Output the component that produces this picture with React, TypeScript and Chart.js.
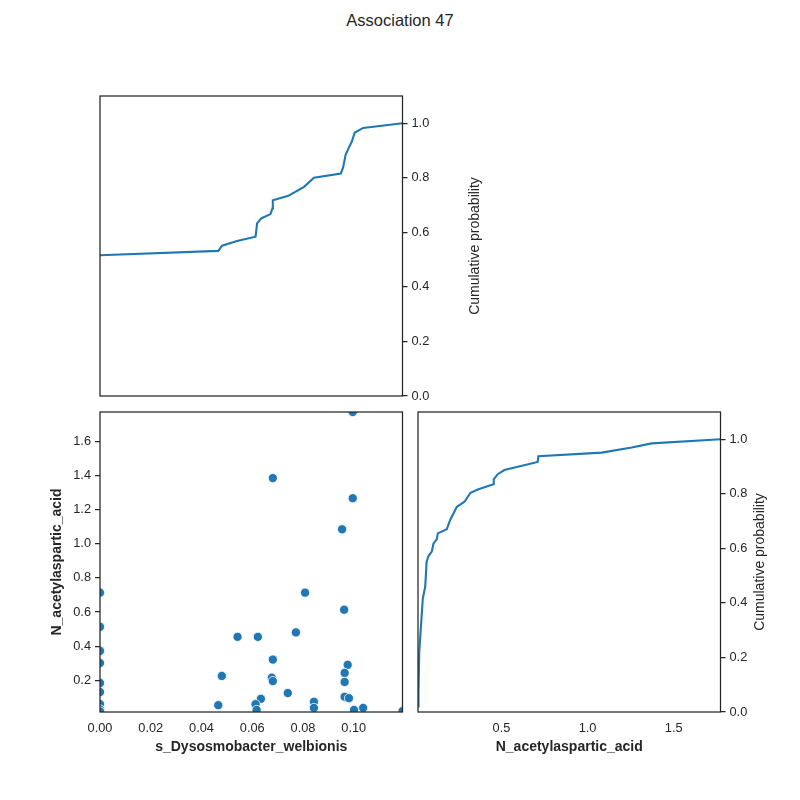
import { useEffect, useRef } from "react"
import { Chart, registerables } from "chart.js"

Chart.register(...registerables)

const TITLE = "Association 47"
const X_LABEL = "s_Dysosmobacter_welbionis"
const Y_LABEL = "N_acetylaspartic_acid"
const CDF_LABEL = "Cumulative probability"

// scatter: s_Dysosmobacter_welbionis vs N_acetylaspartic_acid
const scatterX = [
  0.0996, 0.0681, 0.0996, 0.0954, 0, 0.0808, 0.0962, 0, 0.0772, 0.0542, 0.0622, 0,
  0, 0.0681, 0.0976, 0.0964, 0.048, 0.0677, 0.0681, 0.0964, 0, 0, 0.074, 0.0964,
  0.0981, 0.0634, 0.0843, 0.0466, 0.0613, 0, 0.0843, 0.1037, 0.0617, 0.1001, 0, 0.1192, 0,
]
const scatterY = [
  1.772, 1.385, 1.267, 1.085, 0.714, 0.714, 0.614, 0.514, 0.481, 0.455, 0.455, 0.373,
  0.302, 0.322, 0.291, 0.244, 0.226, 0.216, 0.196, 0.191, 0.185, 0.132, 0.126, 0.104,
  0.096, 0.092, 0.075, 0.055, 0.061, 0.061, 0.039, 0.039, 0.027, 0.027, 0.03, 0.02, 0.018,
]

// cumulative distribution of s_Dysosmobacter_welbionis
const cdfX1 = [
  0, 0.0466, 0.0481, 0.054, 0.0613, 0.0619, 0.0635, 0.0672, 0.0679, 0.0681, 0.0742,
  0.0804, 0.0843, 0.0949, 0.0958, 0.0968, 0.0984, 0.0992, 0.1004, 0.1037, 0.1192,
]
const cdfY1 = [
  0.516, 0.532, 0.551, 0.568, 0.584, 0.633, 0.651, 0.667, 0.687, 0.718, 0.734,
  0.767, 0.8, 0.816, 0.838, 0.885, 0.917, 0.932, 0.966, 0.983, 1.0,
]

// cumulative distribution of N_acetylaspartic_acid
const cdfX2 = [
  0.016, 0.018, 0.022, 0.032, 0.043, 0.057, 0.065, 0.076, 0.095, 0.105, 0.124, 0.13,
  0.182, 0.202, 0.24, 0.285, 0.32, 0.366, 0.453, 0.455, 0.478, 0.517, 0.71, 0.714,
  1.082, 1.256, 1.372, 1.772,
]
const cdfY2 = [
  0.02, 0.07, 0.216, 0.313, 0.417, 0.46, 0.551, 0.572, 0.588, 0.618, 0.633, 0.655,
  0.67, 0.704, 0.752, 0.771, 0.804, 0.817, 0.835, 0.853, 0.872, 0.887, 0.917, 0.938,
  0.951, 0.97, 0.985, 1.0,
]

const xMin = 0
const xMax = 0.1192
const yMin = 0.015
const yMax = 1.772
const xTicks = [0, 0.02, 0.04, 0.06, 0.08, 0.1]
const yTicks = [0.2, 0.4, 0.6, 0.8, 1.0, 1.2, 1.4, 1.6]
const probTicks = [0, 0.2, 0.4, 0.6, 0.8, 1.0]
const yCdfTicks = [0.5, 1.0, 1.5]

const INK = "#262626"
const BLUE = "#1f77b4"
const FONT = "'Liberation Sans', Arial, Helvetica, sans-serif"

const framePlugin = {
  id: "frame",
  afterDatasetsDraw(chart: any) {
    const { ctx, chartArea: a } = chart
    ctx.save()
    ctx.strokeStyle = INK
    ctx.lineWidth = 1.25
    ctx.strokeRect(a.left, a.top, a.right - a.left, a.bottom - a.top)
    ctx.restore()
  },
}

// right-hand axis title, reading bottom to top like matplotlib
const sideTitlePlugin = {
  id: "sideTitle",
  afterDraw(chart: any, _args: any, opts: any) {
    if (!opts || !opts.text) return
    const { ctx, chartArea: a } = chart
    ctx.save()
    ctx.translate(opts.x, (a.top + a.bottom) / 2)
    ctx.rotate(-Math.PI / 2)
    ctx.textAlign = "center"
    ctx.textBaseline = "middle"
    ctx.font = `14px ${FONT}`
    ctx.fillStyle = INK
    ctx.fillText(opts.text, 0, 0)
    ctx.restore()
  },
}

const tickFont = { family: FONT, size: 12.8 }
const labelFont = { family: FONT, size: 14, weight: "bold" as const }

const fixed = (values: number[]) => (scale: any) => {
  scale.ticks = values.map((value) => ({ value }))
}

const yAxis = (position: "left" | "right", min: number, max: number, ticks: number[], digits: number) => ({
  type: "linear" as const,
  position,
  min,
  max,
  afterBuildTicks: fixed(ticks),
  afterFit: (s: any) => {
    s.width = position === "left" ? 100 : 60
  },
  border: { display: false },
  grid: { drawOnChartArea: false, tickLength: 5, tickColor: INK, lineWidth: 1.25 },
  ticks: { color: INK, font: tickFont, padding: 4, callback: (v: any) => Number(v).toFixed(digits) },
})

const xAxis = (min: number, max: number, ticks: number[], digits: number, text: string) => ({
  type: "linear" as const,
  position: "bottom" as const,
  min,
  max,
  afterBuildTicks: fixed(ticks),
  afterFit: (s: any) => {
    s.height = 60
  },
  border: { display: false },
  grid: { display: false, drawTicks: false },
  ticks: { color: INK, font: tickFont, padding: 9, maxRotation: 0, callback: (v: any) => Number(v).toFixed(digits) },
  title: { display: true, text, color: INK, font: labelFont, padding: { top: 0, bottom: 16 } },
})

const lineSet = (xs: number[], ys: number[]) => ({
  data: xs.map((x, i) => ({ x, y: ys[i] })),
  borderColor: BLUE,
  borderWidth: 2.1,
  pointRadius: 0,
  tension: 0,
  clip: 0,
})

const basePlugins = { legend: { display: false }, tooltip: { enabled: false } }

function ChartCanvas({ config }: { config: any }) {
  const ref = useRef<HTMLCanvasElement>(null)
  useEffect(() => {
    if (!ref.current) return
    const chart = new Chart(ref.current, config)
    return () => chart.destroy()
  }, [config])
  return <canvas ref={ref} width={800} height={800} style={{ position: "absolute", left: 0, top: 0 }} />
}

const topCdf = {
  type: "line",
  data: { datasets: [lineSet(cdfX1, cdfY1)] },
  options: {
    animation: false,
    responsive: false,
    layout: { padding: { left: 100, top: 96, right: 337.5, bottom: 404 } },
    plugins: { ...basePlugins, sideTitle: { text: CDF_LABEL, x: 475 } },
    scales: {
      x: { type: "linear", display: false, min: xMin, max: xMax },
      y: yAxis("right", 0, 1.1, probTicks, 1),
    },
  },
  plugins: [framePlugin, sideTitlePlugin],
}

const scatter = {
  type: "scatter",
  data: {
    datasets: [
      {
        data: scatterX.map((x, i) => ({ x, y: scatterY[i] })),
        backgroundColor: BLUE,
        borderColor: "#ffffff",
        borderWidth: 0.8,
        pointRadius: 4.6,
        clip: 0,
      },
    ],
  },
  options: {
    animation: false,
    responsive: false,
    layout: { padding: { left: 0, top: 412, right: 397.5, bottom: 28 } },
    plugins: basePlugins,
    scales: {
      x: xAxis(xMin, xMax, xTicks, 2, X_LABEL),
      y: {
        ...yAxis("left", yMin, yMax, yTicks, 1),
        title: { display: true, text: Y_LABEL, color: INK, font: labelFont, padding: { top: 49, bottom: 0 } },
      },
    },
  },
  plugins: [framePlugin],
}

const rightCdf = {
  type: "line",
  data: { datasets: [lineSet(cdfX2, cdfY2)] },
  options: {
    animation: false,
    responsive: false,
    layout: { padding: { left: 418, top: 412, right: 19.5, bottom: 28 } },
    plugins: { ...basePlugins, sideTitle: { text: CDF_LABEL, x: 760.5 } },
    scales: {
      x: xAxis(yMin, yMax, yCdfTicks, 1, Y_LABEL),
      y: yAxis("right", 0, 1.1, probTicks, 1),
    },
  },
  plugins: [framePlugin, sideTitlePlugin],
}

export default function App() {
  return (
    <div style={{ position: "absolute", left: 0, top: 0, width: 800, height: 800, background: "#ffffff" }}>
      <div
        style={{
          position: "absolute",
          left: 0,
          top: 12,
          width: 800,
          textAlign: "center",
          fontFamily: FONT,
          fontSize: 16.5,
          lineHeight: "16.5px",
          color: INK,
        }}
      >
        {TITLE}
      </div>
      <ChartCanvas config={topCdf} />
      <ChartCanvas config={scatter} />
      <ChartCanvas config={rightCdf} />
    </div>
  )
}
